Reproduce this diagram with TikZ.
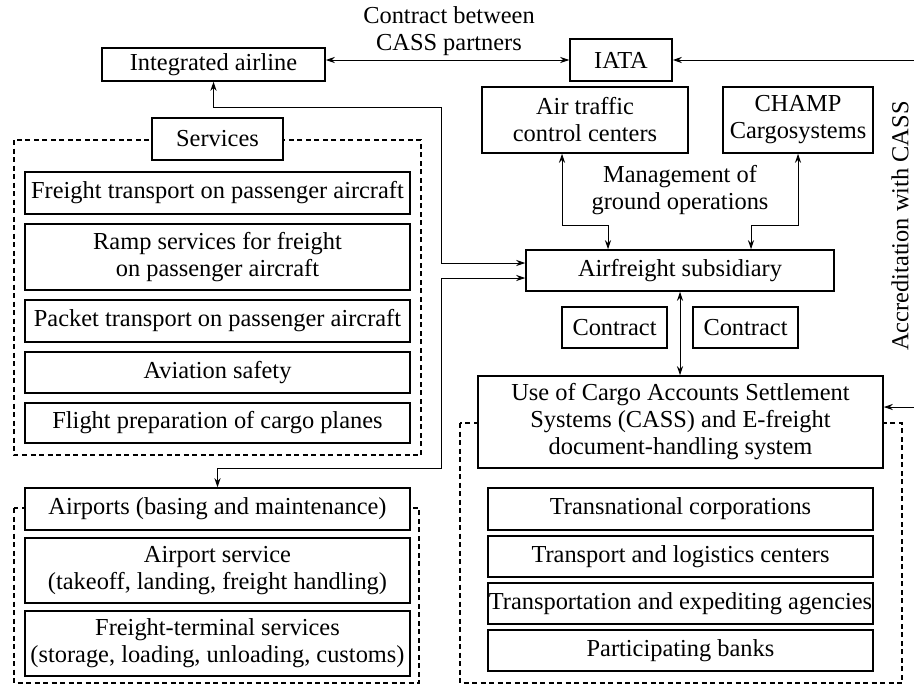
\documentclass[tikz,border=0pt]{standalone}
\usepackage{fontspec}
\setmainfont{Liberation Serif}
\usetikzlibrary{arrows.meta}

\begin{document}
\begin{tikzpicture}[x=0.5pt, y=-0.5pt,
    box/.style={draw, fill=white, line width=0.75pt, inner sep=0.5pt, align=center, font=\fontsize{12.2}{13.5}\selectfont},
    frame/.style={draw, dash pattern=on 2.5pt off 1.75pt, line width=0.75pt},
    lbl/.style={align=center, font=\fontsize{12.2}{13.5}\selectfont},
    twoway/.style={line width=0.5pt, {Stealth[length=4.5pt, width=3pt]}-{Stealth[length=4.5pt, width=3pt]}},
    oneway/.style={line width=0.5pt, -{Stealth[length=4.5pt, width=3pt]}}]
    \useasboundingbox (0, 0) rectangle (914, 685);

    \draw[frame] (14, 140) rectangle (421, 455);
    \draw[frame] (14, 508) rectangle (419, 683);
    \draw[frame] (460, 423) rectangle (902, 683);

    \node[box, minimum width=111.5pt, minimum height=16.5pt] (airline) at (213.5, 64.5) {Integrated airline};
    \node[box, minimum width=51pt, minimum height=21pt] (iata) at (621, 60) {IATA};
    \node[box, minimum width=103pt, minimum height=33pt] (atc) at (585, 120) {Air traffic\\control centers};
    \node[box, minimum width=75pt, minimum height=33pt] (champ) at (798, 120) {CHAMP\\Cargosystems};

    \node[box, minimum width=65.5pt, minimum height=21pt] (services) at (217.5, 139) {Services};
    \node[box, minimum width=192.5pt, minimum height=21pt] (freight) at (217.5, 193) {Freight transport on passenger aircraft};
    \node[box, minimum width=192.5pt, minimum height=33pt] (ramp) at (217.5, 257) {Ramp services for freight\\on passenger aircraft};
    \node[box, minimum width=192.5pt, minimum height=21pt] (packet) at (217.5, 321) {Packet transport on passenger aircraft};
    \node[box, minimum width=192.5pt, minimum height=20.5pt] (safety) at (217.5, 372.5) {Aviation safety};
    \node[box, minimum width=192.5pt, minimum height=20pt] (flightprep) at (217.5, 423) {Flight preparation of cargo planes};

    \node[box, minimum width=192.5pt, minimum height=21pt] (airports) at (217.5, 509) {Airports (basing and maintenance)};
    \node[box, minimum width=192.5pt, minimum height=32.5pt] (apservice) at (217.5, 570.5) {Airport service\\(takeoff, landing, freight handling)};
    \node[box, minimum width=192.5pt, minimum height=32.5pt] (terminal) at (217.5, 643.5) {Freight-terminal services\\(storage, loading, unloading, customs)};

    \node[box, minimum width=154pt, minimum height=20.5pt] (airfreight) at (680, 270.5) {Airfreight subsidiary};
    \node[box, minimum width=52.5pt, minimum height=20.5pt] (contractl) at (614.5, 327.5) {Contract};
    \node[box, minimum width=52.5pt, minimum height=20.5pt] (contractr) at (745.5, 327.5) {Contract};
    \node[box, minimum width=202.5pt, minimum height=46pt] (cass) at (680.5, 422) {Use of Cargo Accounts Settlement\\Systems (CASS) and E-freight\\document-handling system};
    \node[box, minimum width=192.5pt, minimum height=21pt] (transnat) at (680.5, 509) {Transnational corporations};
    \node[box, minimum width=192.5pt, minimum height=20.5pt] (logistics) at (680.5, 556.5) {Transport and logistics centers};
    \node[box, minimum width=192.5pt, minimum height=20.5pt] (expediting) at (680.5, 603.5) {Transportation and expediting agencies};
    \node[box, minimum width=192.5pt, minimum height=20.5pt] (banks) at (680.5, 650.5) {Participating banks};

    \node[lbl] (partners) at (449, 31) {Contract between\\CASS partners};
    \node[lbl] (ground) at (680, 190) {Management of\\ground operations};
    \node[lbl, rotate=90] (accred) at (900, 226) {Accreditation with CASS};

    \coordinate (edgeA) at (914, 60);
    \coordinate (edgeB) at (914, 407);
    \coordinate (bendA) at (441, 107);
    \coordinate (bendB) at (441, 468);
    \coordinate (bendC) at (562, 225);
    \coordinate (bendD) at (798, 225);

    \draw[twoway] (airline.east |- iata.west) -- (iata.west);
    \draw[oneway] (edgeA) -- (iata.east);
    \draw[twoway] (airline.south) |- (bendA) |- ([yshift=3.75pt]airfreight.west);
    \draw[twoway] (airports.north) |- (bendB) |- ([yshift=-3.75pt]airfreight.west);
    \draw[twoway] (atc.south -| bendC) -- (bendC) -| ([xshift=-36pt]airfreight.north);
    \draw[twoway] (champ.south -| bendD) -- (bendD) -| ([xshift=35.5pt]airfreight.north);
    \draw[twoway] (airfreight.south) -- (airfreight.south |- cass.north);
    \draw[oneway] (edgeB) -- ([yshift=7.5pt]cass.east);
\end{tikzpicture}
\end{document}
